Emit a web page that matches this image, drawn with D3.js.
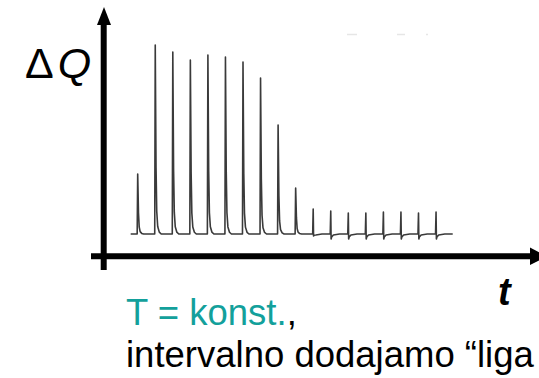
<!DOCTYPE html>
<html>
<head>
<meta charset="utf-8">
<script src="https://cdn.jsdelivr.net/npm/d3@7"></script>
<style>
  html, body { margin: 0; padding: 0; background: #fff; }
  svg { display: block; }
</style>
</head>
<body>
<script>
// peak number (time of each added ligand portion) and peak height of ΔQ
var peakTimes = [1, 2, 3, 4, 5, 6, 7, 8, 9, 10, 11, 12, 13, 14, 15, 16, 17, 18];
var peakHeights = [60, 189, 182, 174, 179, 177, 172, 156, 109, 46, 25, 23, 21, 21, 22, 22, 21, 22];
var dipDepths = [0, 0, 0, 0, 0, 0, 0, 0, 0, 0, 2, 5, 5, 5, 5, 5, 5, 5];
// one spike: [time offset, fraction of peak height]
var spikeShape = [[-0.03, 0], [0, 1], [0.045, 0.35], [0.085, 0.12], [0.14, 0.04], [0.23, 0.01], [0.34, 0]];
var traceStart = 0.6, traceEnd = 18.95;

var width = 539, height = 378;

var svg = d3.select("body").append("svg").attr("width", width).attr("height", height);

var x = d3.scaleLinear().domain([0, 18]).range([120.15, 436.05]);
var y = d3.scaleLinear().domain([0, 200]).range([234, 34]);

// signal trace
var pts = [[traceStart, 0]];
peakTimes.forEach(function (t, i) {
	spikeShape.forEach(function (s, j) {
		var v = s[1] * peakHeights[i];
		if (j === 2 && dipDepths[i] > 0) { pts.push([t + 0.02, -dipDepths[i]]); pts.push([t + 0.05, -dipDepths[i] * 0.6]); }
		if (j >= 2 && dipDepths[i] > 0) { return; }
		pts.push([t + s[0], v]);
	});
	if (dipDepths[i] > 0) { pts.push([t + 0.15, -1]); pts.push([t + 0.5, 0]); }
});
pts.push([traceEnd, 0]);

var line = d3.line().x(function (d) { return x(d[0]); }).y(function (d) { return y(d[1]); });

svg.append("path").datum(pts)
	.attr("d", line)
	.attr("fill", "none")
	.attr("stroke", "#3a3a3a")
	.attr("stroke-width", 1.6)
	.attr("stroke-linejoin", "round");

// faint scan artefacts near the top
[[347, 357], [397, 405], [426, 428]].forEach(function (d) {
	svg.append("line").attr("x1", d[0]).attr("x2", d[1]).attr("y1", 34.5).attr("y2", 34.5)
		.attr("stroke", "#e6e6e6").attr("stroke-width", 1.5);
});

// axes
svg.append("line").attr("x1", 103.7).attr("x2", 103.7).attr("y1", 270).attr("y2", 22)
	.attr("stroke", "#000").attr("stroke-width", 6);
svg.append("path").attr("d", "M104,7 L97,25 L111,25 Z").attr("fill", "#000");

svg.append("line").attr("x1", 91).attr("x2", 532).attr("y1", 256.3).attr("y2", 256.3)
	.attr("stroke", "#000").attr("stroke-width", 6);
svg.append("path").attr("d", "M547,256.3 L530,247.5 L530,265 Z").attr("fill", "#000");

// labels
var yl = svg.append("text").attr("x", 25).attr("y", 78)
	.attr("font-family", "Arial, 'Liberation Sans', sans-serif").attr("font-size", 43).attr("fill", "#000");
yl.append("tspan").text("Δ");
yl.append("tspan").attr("dx", 4).attr("font-style", "italic").text("Q");

svg.append("text").attr("x", 498).attr("y", 305)
	.attr("font-family", "Arial, 'Liberation Sans', sans-serif").attr("font-size", 38)
	.attr("font-style", "italic").attr("font-weight", "bold").attr("fill", "#000").text("t");

var t1 = svg.append("text").attr("x", 126).attr("y", 325)
	.attr("font-family", "Arial, 'Liberation Sans', sans-serif").attr("font-size", 36.5);
t1.append("tspan").attr("fill", "#13a09b").text("T = konst.");
t1.append("tspan").attr("fill", "#000").text(",");

svg.append("text").attr("x", 126).attr("y", 367)
	.attr("font-family", "Arial, 'Liberation Sans', sans-serif").attr("font-size", 36.5)
	.attr("fill", "#000").text("intervalno dodajamo “liga");
</script>
</body>
</html>
